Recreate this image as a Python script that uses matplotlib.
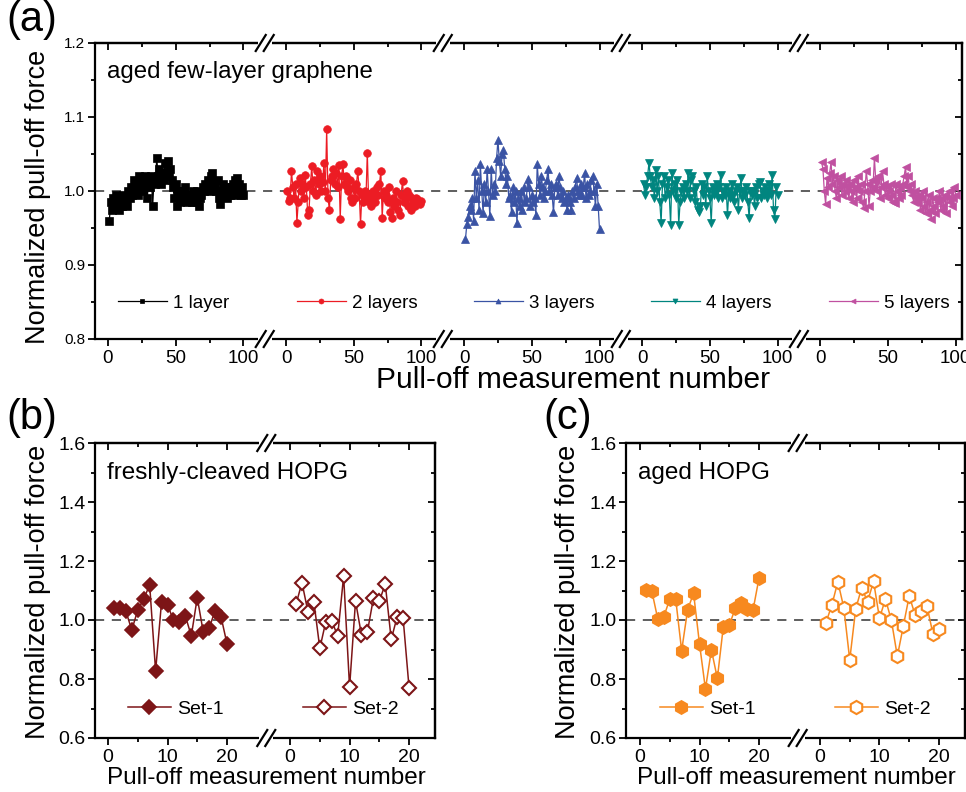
import matplotlib
matplotlib.use('Agg')
import matplotlib.pyplot as plt
from matplotlib.lines import Line2D
from matplotlib.patches import Rectangle
from matplotlib.legend import Legend

plt.rcParams['font.family'] = ['Liberation Sans', 'DejaVu Sans']

# ---------------- data ----------------
layer_labels = ['1 layer', '2 layers', '3 layers', '4 layers', '5 layers']
layer1 = [0.96, 0.985, 0.975, 0.99, 0.98, 0.995, 0.985, 0.975, 0.99, 0.98,
          0.995, 0.985, 0.99, 0.98, 1.0, 0.99, 1.005, 0.995, 1.015, 1.0,
          1.01, 0.995, 1.02, 1.005, 1.015, 1.0, 1.02, 1.01, 0.99, 1.015,
          1.005, 1.02, 0.98, 1.015, 1.01, 1.045, 1.02, 1.03, 1.01, 1.025,
          1.015, 1.038, 1.025, 1.04, 1.02, 1.03, 1.015, 1.005, 0.99, 1.01,
          0.98, 1.0, 0.985, 0.995, 1.0, 0.99, 1.005, 0.985, 0.995, 0.99,
          0.995, 0.985, 1.0, 0.99, 0.985, 1.0, 0.98, 0.99, 0.995, 1.005,
          1.0, 1.01, 1.005, 1.015, 1.0, 1.02, 1.025, 1.01, 1.005, 1.0,
          1.015, 0.99, 0.982, 1.0, 1.01, 0.995, 1.005, 0.99, 1.0, 0.995,
          1.005, 1.01, 0.995, 1.015, 1.018, 1.0, 1.01, 0.995, 1.005, 0.995]
layer2 = [1.0, 0.986, 0.99, 1.027, 1.005, 0.99, 1.01, 0.957, 0.985, 1.018,
          1.0, 1.01, 0.99, 1.022, 1.005, 0.968, 0.975, 1.01, 1.034, 1.0,
          1.015, 0.995, 1.027, 1.01, 1.02, 1.0, 1.012, 1.038, 1.0, 1.084,
          0.99, 0.975, 1.015, 1.02, 1.03, 1.01, 1.025, 1.005, 1.035, 0.962,
          1.02, 1.036, 1.01, 1.02, 1.005, 1.0, 1.015, 0.99, 0.985, 1.005,
          0.99, 1.01, 1.027, 1.0, 0.955, 0.995, 0.985, 1.0, 0.99, 1.052,
          0.985, 0.995, 0.98, 1.0, 0.99, 0.985, 1.005, 0.995, 1.01, 1.027,
          0.964, 1.0, 0.99, 0.995, 0.985, 1.005, 0.971, 0.964, 0.99, 0.98,
          1.0, 0.985, 0.975, 0.967, 0.995, 1.014, 0.985, 0.99, 1.0, 0.98,
          0.995, 0.975, 0.99, 0.985, 0.98, 0.99, 0.989, 0.985, 0.982, 0.986]
layer3 = [0.935, 0.955, 0.965, 0.98, 0.975, 0.99, 0.96, 1.027, 0.99, 1.015,
          0.975, 1.036, 1.0, 0.97, 1.01, 0.985, 1.03, 1.0, 0.966, 1.03,
          0.995, 1.01, 1.0, 1.045, 1.069, 1.04, 1.02, 1.05, 1.055, 1.03,
          1.01, 1.02, 0.99, 0.995, 0.971, 1.005, 0.985, 1.0, 0.957, 0.99,
          0.98, 1.0, 0.975, 1.005, 0.985, 0.99, 1.016, 1.005, 0.98, 0.995,
          0.985, 0.99, 0.968, 1.036, 1.01, 0.995, 1.02, 1.005, 0.99, 1.0,
          1.015, 1.03, 1.0, 1.01, 0.995, 0.971, 1.005, 1.01, 0.995, 1.02,
          1.005, 0.99, 1.0, 0.985, 0.99, 0.975, 0.995, 0.985, 0.975, 1.0,
          0.99, 1.005, 1.018, 1.0, 0.995, 1.01, 0.995, 1.005, 1.025, 0.99,
          1.01, 0.995, 1.0, 1.015, 1.02, 1.0, 0.98, 1.01, 0.98, 0.948]
layer4 = [1.01, 0.995, 1.005, 1.02, 1.038, 1.02, 1.005, 1.015, 0.99, 1.028,
          1.0, 1.02, 0.985, 0.957, 1.01, 1.02, 0.99, 1.005, 1.015, 0.995,
          0.954, 1.025, 1.0, 1.01, 0.99, 1.015, 0.954, 0.985, 1.0, 1.005,
          0.99, 1.01, 1.0, 1.025, 0.99, 1.015, 1.02, 1.0, 0.985, 1.005,
          0.975, 0.971, 0.98, 1.01, 0.995, 1.005, 0.98, 1.02, 1.0, 0.99,
          0.957, 1.005, 0.995, 1.0, 1.01, 0.99, 1.005, 1.022, 0.99, 1.0,
          0.995, 1.005, 0.967, 1.0, 0.99, 1.01, 0.995, 0.985, 1.0, 1.005,
          0.975, 1.0, 1.018, 0.99, 1.0, 0.995, 1.005, 0.985, 0.964, 1.0,
          0.995, 1.0, 0.98, 1.005, 0.99, 1.01, 1.012, 0.99, 1.0, 0.995,
          1.005, 0.99, 1.0, 1.01, 0.995, 1.022, 0.975, 0.962, 1.005, 0.995]
layer5 = [1.039, 1.03, 1.0, 0.982, 1.018, 1.005, 1.025, 1.039, 1.01, 1.02,
          1.0, 0.99, 1.015, 1.005, 1.02, 0.995, 1.01, 1.0, 1.015, 1.005,
          0.99, 1.01, 1.0, 0.985, 1.015, 1.005, 0.99, 1.02, 1.0, 1.01,
          0.985, 0.977, 1.0, 1.027, 1.01, 0.98, 1.0, 1.015, 1.005, 1.045,
          1.015, 1.0, 1.02, 0.99, 1.005, 1.027, 1.01, 0.995, 1.005, 0.99,
          1.0, 1.01, 0.995, 0.985, 0.984, 1.01, 1.0, 0.99, 1.005, 0.995,
          1.01, 1.02, 1.033, 1.005, 1.02, 1.0, 1.01, 0.995, 0.985, 1.0,
          0.99, 0.984, 0.995, 0.975, 0.99, 1.0, 0.98, 0.97, 0.985, 0.995,
          0.975, 0.962, 0.99, 0.98, 0.97, 0.99, 0.985, 1.0, 0.975, 0.99,
          0.98, 0.995, 0.97, 0.99, 1.0, 0.985, 0.98, 0.99, 1.005, 0.995]

fresh_set1 = [1.040, 1.040, 1.030, 0.966, 1.034, 1.071, 1.119, 0.827, 1.062, 1.051,
              1.000, 0.994, 1.014, 0.946, 1.076, 0.960, 0.972, 1.032, 1.011, 0.919]
fresh_set2 = [1.053, 1.127, 1.028, 1.062, 0.904, 0.994, 0.997, 0.946, 1.149, 0.772,
              1.064, 0.949, 0.960, 1.073, 1.064, 1.122, 0.934, 1.011, 1.006, 0.770]
aged_set1 = [1.102, 1.097, 1.002, 1.011, 1.071, 1.071, 0.896, 1.034, 1.091, 0.919,
             0.766, 0.899, 0.802, 0.977, 0.982, 1.039, 1.059, 1.037, 1.034, 1.142]
aged_set2 = [0.991, 1.051, 1.130, 1.042, 0.865, 1.037, 1.109, 1.062, 1.131, 1.006,
             1.071, 0.999, 0.877, 0.979, 1.082, 1.016, 1.031, 1.046, 0.951, 0.968]
set_labels = ['Set-1', 'Set-2']

# ---------------- styling ----------------
W, H = 966, 792
fig = plt.figure(figsize=(W / 100, H / 100), dpi=100)


def px_axes(l, t, r, b):
    return fig.add_axes([l / W, 1 - b / H, (r - l) / W, (b - t) / H])


def style_axes(ax, xmajor, xminor, xlabels, ymajor, yminor, ylabfs, xlabfs):
    ax.set_xticks(xmajor)
    ax.set_xticklabels(xlabels)
    ax.set_xticks(xminor, minor=True)
    ax.set_yticks(ymajor)
    ax.set_yticks(yminor, minor=True)
    ax.tick_params(axis='both', which='major', direction='out', length=5, width=1.3)
    ax.tick_params(axis='both', which='minor', direction='out', length=3, width=1.3)
    ax.tick_params(axis='x', labelsize=xlabfs, pad=3)
    ax.tick_params(axis='y', labelsize=ylabfs, pad=2)
    for s in ax.spines.values():
        s.set_linewidth(1.6)
    top = ax.secondary_xaxis('top')
    top.set_xticks(xmajor)
    top.set_xticks(xminor, minor=True)
    top.set_xticklabels([])
    top.tick_params(which='major', direction='in', length=5, width=1.3)
    top.tick_params(which='minor', direction='in', length=3, width=1.3)
    top.spines['top'].set_linewidth(1.6)
    right = ax.secondary_yaxis('right')
    right.set_yticks(ymajor)
    right.set_yticks(yminor, minor=True)
    right.set_yticklabels([])
    right.tick_params(which='major', direction='in', length=5, width=1.3)
    right.tick_params(which='minor', direction='in', length=3, width=1.3)
    right.spines['right'].set_linewidth(1.6)


def add_breaks(ax, xbreaks):
    fig.canvas.draw()
    for xb in xbreaks:
        for yax in (0.0, 1.0):
            cx, cy = ax.transData.transform((xb, 0))[0], ax.transAxes.transform((0, yax))[1]
            fig.add_artist(Rectangle((cx - 7, cy - 3), 14, 6, transform=None,
                                     facecolor='white', edgecolor='none', zorder=20))
            for d in (-4, 4):
                fig.add_artist(Line2D([cx + d - 5, cx + d + 5], [cy - 8, cy + 8],
                                      transform=None, color='black', lw=1.6, zorder=21))


def add_legend(ax, h, x, y, fs, hl, ms):
    lg = Legend(ax, [h], [h.get_label()], loc='center left', bbox_to_anchor=(x, y),
                frameon=False, handlelength=hl, handletextpad=0.35, borderpad=0,
                borderaxespad=0, fontsize=fs, markerscale=ms)
    ax.add_artist(lg)


# ---------------- panel (a) ----------------
seg_a = 131.5
ax_a = px_axes(95, 43, 962, 339)
colors_a = ['#000000', '#ec1c24', '#3a53a4', '#00857f', '#c050a0']
markers_a = ['s', 'o', '^', 'v', '<']
series_a = [layer1, layer2, layer3, layer4, layer5]
handles_a = []
for k, (vals, c, m, lab) in enumerate(zip(series_a, colors_a, markers_a, layer_labels)):
    xs = [i + 1 + k * seg_a for i in range(len(vals))]
    h, = ax_a.plot(xs, vals, color=c, marker=m, markersize=5.5, lw=0.9,
                   markeredgewidth=0.5, label=lab, zorder=3)
    handles_a.append(h)
ax_a.axhline(1.0, color='#333333', lw=1.1, ls=(0, (6, 5)), zorder=1)
ax_a.set_xlim(-9.6, 630.7)
ax_a.set_ylim(0.8, 1.2)
xmaj = [k * seg_a + v for k in range(5) for v in (0, 50, 100)]
xmin = [k * seg_a + v for k in range(5) for v in (25, 75)]
style_axes(ax_a, xmaj, xmin, ['0', '50', '100'] * 5,
           [0.8, 0.9, 1.0, 1.1, 1.2], [0.85, 0.95, 1.05, 1.15], 11, 13.5)
ax_a.set_yticklabels(['0.8', '0.9', '1.0', '1.1', '1.2'])
ax_a.text(12 / 867, 1 - 29 / 296, 'aged few-layer graphene', transform=ax_a.transAxes,
          fontsize=17.3, va='center', ha='left')
leg_x = [118, 297, 474, 651, 829]
for h, lx in zip(handles_a, leg_x):
    add_legend(ax_a, h, (lx - 95) / 867, (339 - 303) / 296, 13.5, 2.6, 0.65)
fig.text(38 / W, 1 - 197 / H, 'Normalized pull-off force', rotation=90,
         fontsize=19.5, ha='center', va='center')
fig.text(573 / W, 1 - 380 / H, 'Pull-off measurement number', fontsize=21.5,
         ha='center', va='center')
fig.text(6 / W, 1 - 20 / H, '(a)', fontsize=30, ha='left', va='center')

# ---------------- panels (b), (c) ----------------
def hopg_panel(l, r, zero_px, seg, xbreak, set1, set2, color, marker, title, legx, mss):
    ax = px_axes(l, 443, r, 738)
    pxu = 5.95
    xs1 = [i + 1 for i in range(len(set1))]
    xs2 = [i + 1 + seg for i in range(len(set2))]
    h1, = ax.plot(xs1, set1, color=color, marker=marker, markersize=mss, lw=1.1,
                  markeredgewidth=1.2, label=set_labels[0], zorder=3)
    h2, = ax.plot(xs2, set2, color=color, marker=marker, markersize=mss, lw=1.1,
                  markerfacecolor='white', markeredgewidth=1.5, label=set_labels[1], zorder=3)
    ax.axhline(1.0, color='#333333', lw=1.1, ls=(0, (6, 5)), zorder=1)
    ax.set_xlim((l - zero_px) / pxu, (r - zero_px) / pxu)
    ax.set_ylim(0.6, 1.6)
    xmaj = [0, 10, 20, seg, seg + 10, seg + 20]
    xmin = [5, 15, seg + 5, seg + 15]
    style_axes(ax, xmaj, xmin, ['0', '10', '20'] * 2,
               [0.6, 0.8, 1.0, 1.2, 1.4, 1.6], [0.7, 0.9, 1.1, 1.3, 1.5], 14, 14)
    ax.set_yticklabels(['0.6', '0.8', '1.0', '1.2', '1.4', '1.6'])
    ax.text(12 / (r - l), 1 - 30 / 295, title, transform=ax.transAxes,
            fontsize=17.5, va='center', ha='left')
    for h, lx in zip((h1, h2), legx):
        add_legend(ax, h, (lx - l) / (r - l), (738 - 709) / 295, 14, 2.2, 1.0)
    return ax, xbreak


ax_b, xb_b = hopg_panel(95, 435, 108, 30.6, 26.6, fresh_set1, fresh_set2,
                        '#7d1517', 'D', 'freshly-cleaved HOPG', (128, 303), 7.5)
ax_c, xb_c = hopg_panel(626, 965, 640, 30.25, 26.5, aged_set1, aged_set2,
                        '#f7891f', 'h', 'aged HOPG', (660, 835), 9.5)

fig.text(38 / W, 1 - 592 / H, 'Normalized pull-off force', rotation=90,
         fontsize=19.5, ha='center', va='center')
fig.text(568 / W, 1 - 592 / H, 'Normalized pull-off force', rotation=90,
         fontsize=19.5, ha='center', va='center')
fig.text(266 / W, 1 - 778 / H, 'Pull-off measurement number', fontsize=17.5,
         ha='center', va='center')
fig.text(796 / W, 1 - 778 / H, 'Pull-off measurement number', fontsize=17.5,
         ha='center', va='center')
fig.text(6 / W, 1 - 418 / H, '(b)', fontsize=30, ha='left', va='center')
fig.text(543 / W, 1 - 418 / H, '(c)', fontsize=30, ha='left', va='center')

add_breaks(ax_a, [115.75 + k * seg_a for k in range(4)])
add_breaks(ax_b, [xb_b])
add_breaks(ax_c, [xb_c])

fig.savefig('out.png', dpi=100)
